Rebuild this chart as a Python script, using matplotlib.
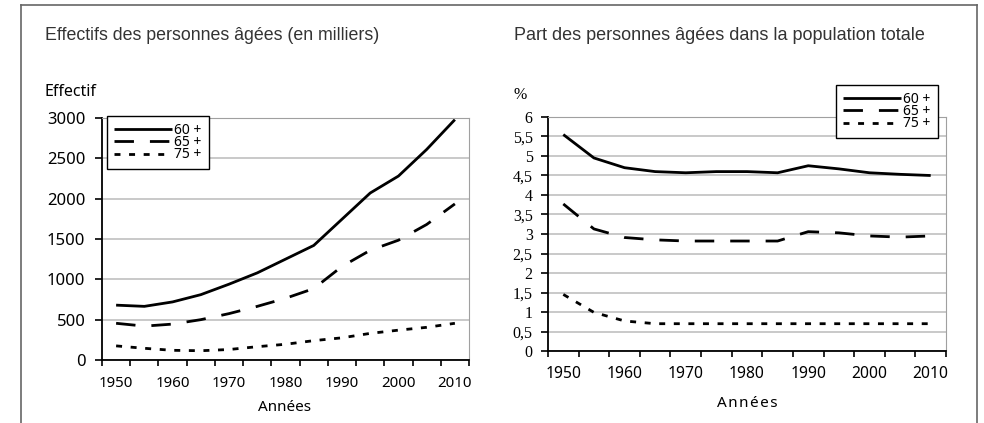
import numpy as np
import matplotlib.pyplot as plt
from matplotlib.lines import Line2D
from matplotlib.ticker import FixedLocator, FuncFormatter

plt.rcParams['lines.scale_dashes'] = False

years = [1950, 1955, 1960, 1965, 1970, 1975, 1980, 1985, 1990, 1995, 2000, 2005, 2010]
labels = ['60 +', '65 +', '75 +']

# effectifs en milliers
eff_60 = [680, 665, 720, 810, 940, 1080, 1250, 1420, 1745, 2070, 2280, 2610, 2980]
eff_65 = [455, 420, 445, 500, 575, 665, 765, 885, 1160, 1360, 1485, 1680, 1935]
eff_75 = [175, 145, 120, 115, 130, 165, 195, 240, 275, 330, 370, 405, 455]

# part dans la population totale (%)
part_60 = [5.55, 4.95, 4.70, 4.60, 4.57, 4.60, 4.60, 4.57, 4.75, 4.67, 4.57, 4.53, 4.50]
part_65 = [3.77, 3.13, 2.91, 2.85, 2.82, 2.82, 2.82, 2.82, 3.06, 3.03, 2.95, 2.92, 2.95]
part_75 = [1.45, 0.99, 0.77, 0.70, 0.70, 0.70, 0.70, 0.70, 0.70, 0.70, 0.70, 0.70, 0.70]

styles = [dict(ls='-'), dict(dashes=(14, 11.5)), dict(dashes=(4.3, 6.2))]

sans = 'Noto Sans'
W, H = 984, 423
fig = plt.figure(figsize=(W / 100, H / 100), dpi=100)


def fx(px):
    return px / W


def fy(py):
    return 1 - py / H


# cadre extérieur
for xs, ys in [([21, 21], [423, 5]), ([21, 977], [5, 5]), ([977, 977], [5, 423])]:
    fig.add_artist(Line2D([fx(v) for v in xs], [fy(v) for v in ys], color='#666666', lw=1.2))


def setup(ax, xfs, xpad, yfam, yfs, ypad):
    x = np.arange(len(years))
    ax.set_xlim(-0.5, len(years) - 0.5)
    ax.xaxis.set_major_locator(FixedLocator(x[::2]))
    ax.set_xticklabels([str(y) for y in years[::2]])
    ax.xaxis.set_minor_locator(FixedLocator(np.arange(-0.5, len(years), 1.0)))
    ax.tick_params(axis='x', which='major', length=0, pad=xpad, labelsize=xfs, labelfontfamily=sans)
    ax.tick_params(axis='x', which='minor', length=4, width=1.2, color='black', direction='out')
    ax.tick_params(axis='y', length=5, width=1.2, direction='out', pad=ypad,
                   labelsize=yfs, labelfontfamily=yfam)
    ax.grid(axis='y', color='#c0c0c0', lw=1.2)
    ax.set_axisbelow(True)
    ax.spines['left'].set_color('black')
    ax.spines['left'].set_linewidth(1.3)
    ax.spines['bottom'].set_color('black')
    ax.spines['bottom'].set_linewidth(1.3)
    ax.spines['top'].set_color('#a0a0a0')
    ax.spines['right'].set_color('#a0a0a0')
    return x


def legend(ax, x0, y0):
    lg = ax.legend(loc='upper left', bbox_to_anchor=(fx(x0), fy(y0)), bbox_transform=fig.transFigure,
                   prop={'family': sans, 'size': 10}, handlelength=4.2, handletextpad=0.15,
                   labelspacing=-0.2, borderpad=0.5, borderaxespad=0, fancybox=False,
                   edgecolor='black', framealpha=1)
    lg.get_frame().set_linewidth(1.0)


# ---- gauche
ax1 = fig.add_axes([fx(102), fy(360), fx(469 - 102), (360 - 118) / H])
ax1.set_ylim(0, 3000)
ax1.set_yticks(range(0, 3001, 500))
x = setup(ax1, 10.8, 11.5, sans, 12, 7)
for vals, lab, st in zip([eff_60, eff_65, eff_75], labels, styles):
    ax1.plot(x, vals, color='black', lw=2, solid_capstyle='butt', dash_capstyle='butt', label=lab, **st)
legend(ax1, 107, 116)

fig.text(fx(45), fy(36), 'Effectifs des personnes âgées (en milliers)', family='Liberation Sans',
         fontsize=12.8, color='#333333', va='center', ha='left')
fig.text(fx(45), fy(92), 'Effectif', family=sans, fontsize=11.5, va='center', ha='left')
fig.text(fx(285), fy(407), 'Années', family=sans, fontsize=11, va='center', ha='center')

# ---- droite
ax2 = fig.add_axes([fx(548), fy(351), fx(946 - 548), (351 - 117) / H])
ax2.set_ylim(0, 6)
ax2.set_yticks(np.arange(0, 6.01, 0.5))
ax2.yaxis.set_major_formatter(FuncFormatter(lambda v, p: f'{v:g}'.replace('.', ',')))
x = setup(ax2, 11.3, 11, 'Liberation Serif', 11.5, 6)
for vals, lab, st in zip([part_60, part_65, part_75], labels, styles):
    ax2.plot(x, vals, color='black', lw=2, solid_capstyle='butt', dash_capstyle='butt', label=lab, **st)
legend(ax2, 836, 85)

fig.text(fx(514), fy(36), 'Part des personnes âgées dans la population totale', family='Liberation Sans',
         fontsize=13, color='#333333', va='center', ha='left')
fig.text(fx(513), fy(95), '%', family='Liberation Serif', fontsize=11.5, va='center', ha='left')
fig.text(fx(747), fy(403), 'A n n é e s'.replace(' ', '\u200a'), family=['Noto Sans', 'DejaVu Sans'],
         fontsize=11, va='center', ha='center')

fig.savefig('out.png', dpi=100)
